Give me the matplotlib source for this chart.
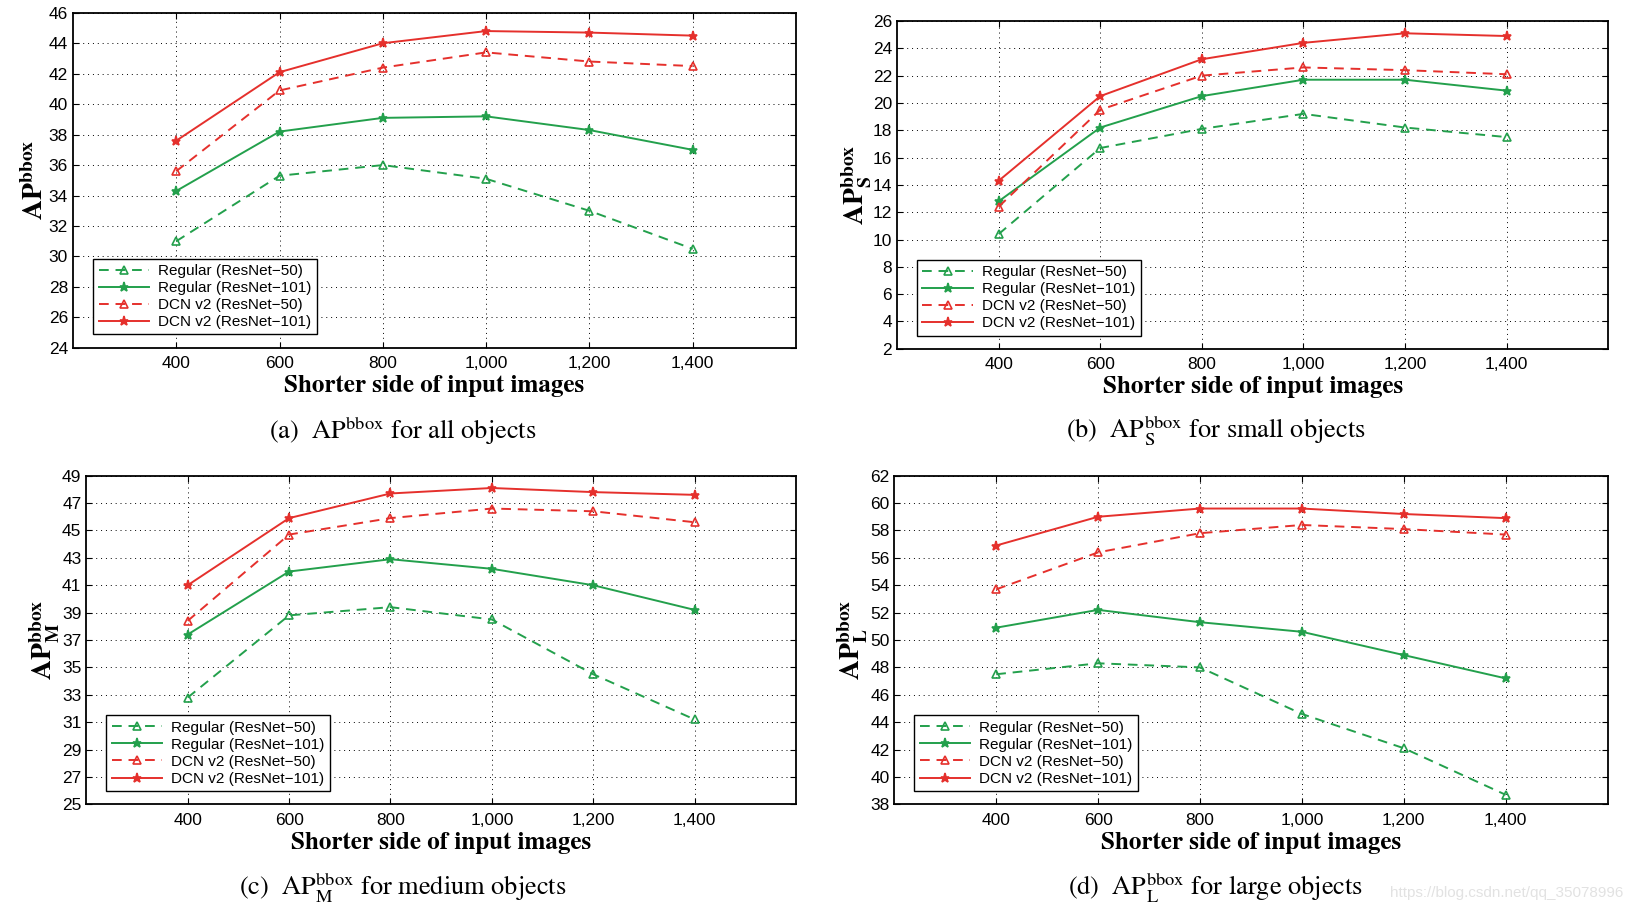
"""Recreate the 2x2 DCN v2 vs Regular AP-vs-input-size figure."""
import matplotlib

matplotlib.use("Agg")
import matplotlib.pyplot as plt

plt.rcParams["font.family"] = ["Liberation Sans", "DejaVu Sans"]
plt.rcParams["mathtext.fontset"] = "stix"

GREEN = "#23a04c"
RED = "#e5302c"

sizes = [400, 600, 800, 1000, 1200, 1400]
size_labels = ["400", "600", "800", "1,000", "1,200", "1,400"]
series_names = ["Regular (ResNet\u221250)", "Regular (ResNet\u2212101)",
                "DCN v2 (ResNet\u221250)", "DCN v2 (ResNet\u2212101)"]

# (a) all objects
ap_all_reg50 = [31.0, 35.3, 36.0, 35.1, 33.0, 30.5]
ap_all_reg101 = [34.3, 38.2, 39.1, 39.2, 38.3, 37.0]
ap_all_dcn50 = [35.6, 40.9, 42.4, 43.4, 42.8, 42.5]
ap_all_dcn101 = [37.6, 42.1, 44.0, 44.8, 44.7, 44.5]

# (b) small objects
ap_s_reg50 = [10.4, 16.7, 18.1, 19.2, 18.2, 17.5]
ap_s_reg101 = [12.8, 18.2, 20.5, 21.7, 21.7, 20.9]
ap_s_dcn50 = [12.4, 19.5, 22.0, 22.6, 22.4, 22.1]
ap_s_dcn101 = [14.3, 20.5, 23.2, 24.4, 25.1, 24.9]

# (c) medium objects
ap_m_reg50 = [32.8, 38.8, 39.4, 38.5, 34.5, 31.2]
ap_m_reg101 = [37.4, 42.0, 42.9, 42.2, 41.0, 39.2]
ap_m_dcn50 = [38.4, 44.7, 45.9, 46.6, 46.4, 45.6]
ap_m_dcn101 = [41.0, 45.9, 47.7, 48.1, 47.8, 47.6]

# (d) large objects
ap_l_reg50 = [47.5, 48.3, 48.0, 44.6, 42.1, 38.7]
ap_l_reg101 = [50.9, 52.2, 51.3, 50.6, 48.9, 47.2]
ap_l_dcn50 = [53.7, 56.4, 57.8, 58.4, 58.1, 57.7]
ap_l_dcn101 = [56.9, 59.0, 59.6, 59.6, 59.2, 58.9]

panels = [
    # rect, data, ylim, yticks, ylabel, caption, caption xy
    ([0.0447, 0.619, 0.443, 0.367],
     [ap_all_reg50, ap_all_reg101, ap_all_dcn50, ap_all_dcn101],
     (24, 46), range(24, 47, 2),
     r"$\mathbf{AP}^{\mathbf{bbox}}$",
     r"(a)  AP$^{\mathrm{bbox}}$ for all objects", (0.247, 0.528)),
    ([0.5497, 0.618, 0.4357, 0.359],
     [ap_s_reg50, ap_s_reg101, ap_s_dcn50, ap_s_dcn101],
     (2, 26), range(2, 27, 2),
     r"$\mathbf{AP}^{\mathbf{bbox}}_{\mathbf{S}}$",
     r"(b)  AP$^{\mathrm{bbox}}_{\mathrm{S}}$ for small objects", (0.745, 0.528)),
    ([0.0529, 0.119, 0.4348, 0.360],
     [ap_m_reg50, ap_m_reg101, ap_m_dcn50, ap_m_dcn101],
     (25, 49), range(25, 50, 2),
     r"$\mathbf{AP}^{\mathbf{bbox}}_{\mathbf{M}}$",
     r"(c)  AP$^{\mathrm{bbox}}_{\mathrm{M}}$ for medium objects", (0.247, 0.027)),
    ([0.548, 0.119, 0.437, 0.360],
     [ap_l_reg50, ap_l_reg101, ap_l_dcn50, ap_l_dcn101],
     (38, 62), range(38, 63, 2),
     r"$\mathbf{AP}^{\mathbf{bbox}}_{\mathbf{L}}$",
     r"(d)  AP$^{\mathrm{bbox}}_{\mathrm{L}}$ for large objects", (0.745, 0.027)),
]

styles = [
    dict(color=GREEN, ls=(0, (5, 3.5)), marker="^", mfc="none", ms=6),
    dict(color=GREEN, ls="-", marker="*", ms=6.5),
    dict(color=RED, ls=(0, (5, 3.5)), marker="^", mfc="none", ms=6),
    dict(color=RED, ls="-", marker="*", ms=6.5),
]

fig = plt.figure(figsize=(16.32, 9.13), dpi=100)

for rect, data, ylim, yticks, ylabel, caption, cap_xy in panels:
    ax = fig.add_axes(rect)
    for vals, name, st in zip(data, series_names, styles):
        ax.plot(sizes, vals, label=name, lw=1.4, mew=1.2, **st)
    ax.set_xlim(200, 1600)
    ax.set_ylim(*ylim)
    ax.set_xticks(sizes)
    ax.set_xticklabels(size_labels)
    ax.set_yticks(list(yticks))
    ax.tick_params(direction="in", top=True, right=True, labelsize=12.5,
                   length=4, width=0.8)
    ax.tick_params(axis="x", pad=6)
    ax.grid(True, color="black", ls=(0, (1, 4)), lw=0.7)
    for sp in ax.spines.values():
        sp.set_linewidth(1.3)
    ax.set_xlabel("Shorter side of input images", family="STIXGeneral",
                  fontweight="bold", fontsize=18, labelpad=3)
    ax.set_ylabel(ylabel, fontsize=20, labelpad=0)
    leg = ax.legend(loc="lower left", bbox_to_anchor=(0.028, 0.04),
                    borderaxespad=0, fontsize=11, handlelength=3.3,
                    handletextpad=0.6, labelspacing=0.2, borderpad=0.35,
                    fancybox=False, framealpha=1, edgecolor="black")
    leg.get_frame().set_linewidth(1.0)
    fig.text(cap_xy[0], cap_xy[1], caption, ha="center", va="center",
             family="STIXGeneral", fontsize=19)

fig.text(0.995, 0.022, "https://blog.csdn.net/qq_35078996", ha="right",
         va="center", color="#e2e2e2", fontsize=11)

fig.savefig("out.png", dpi=100)
